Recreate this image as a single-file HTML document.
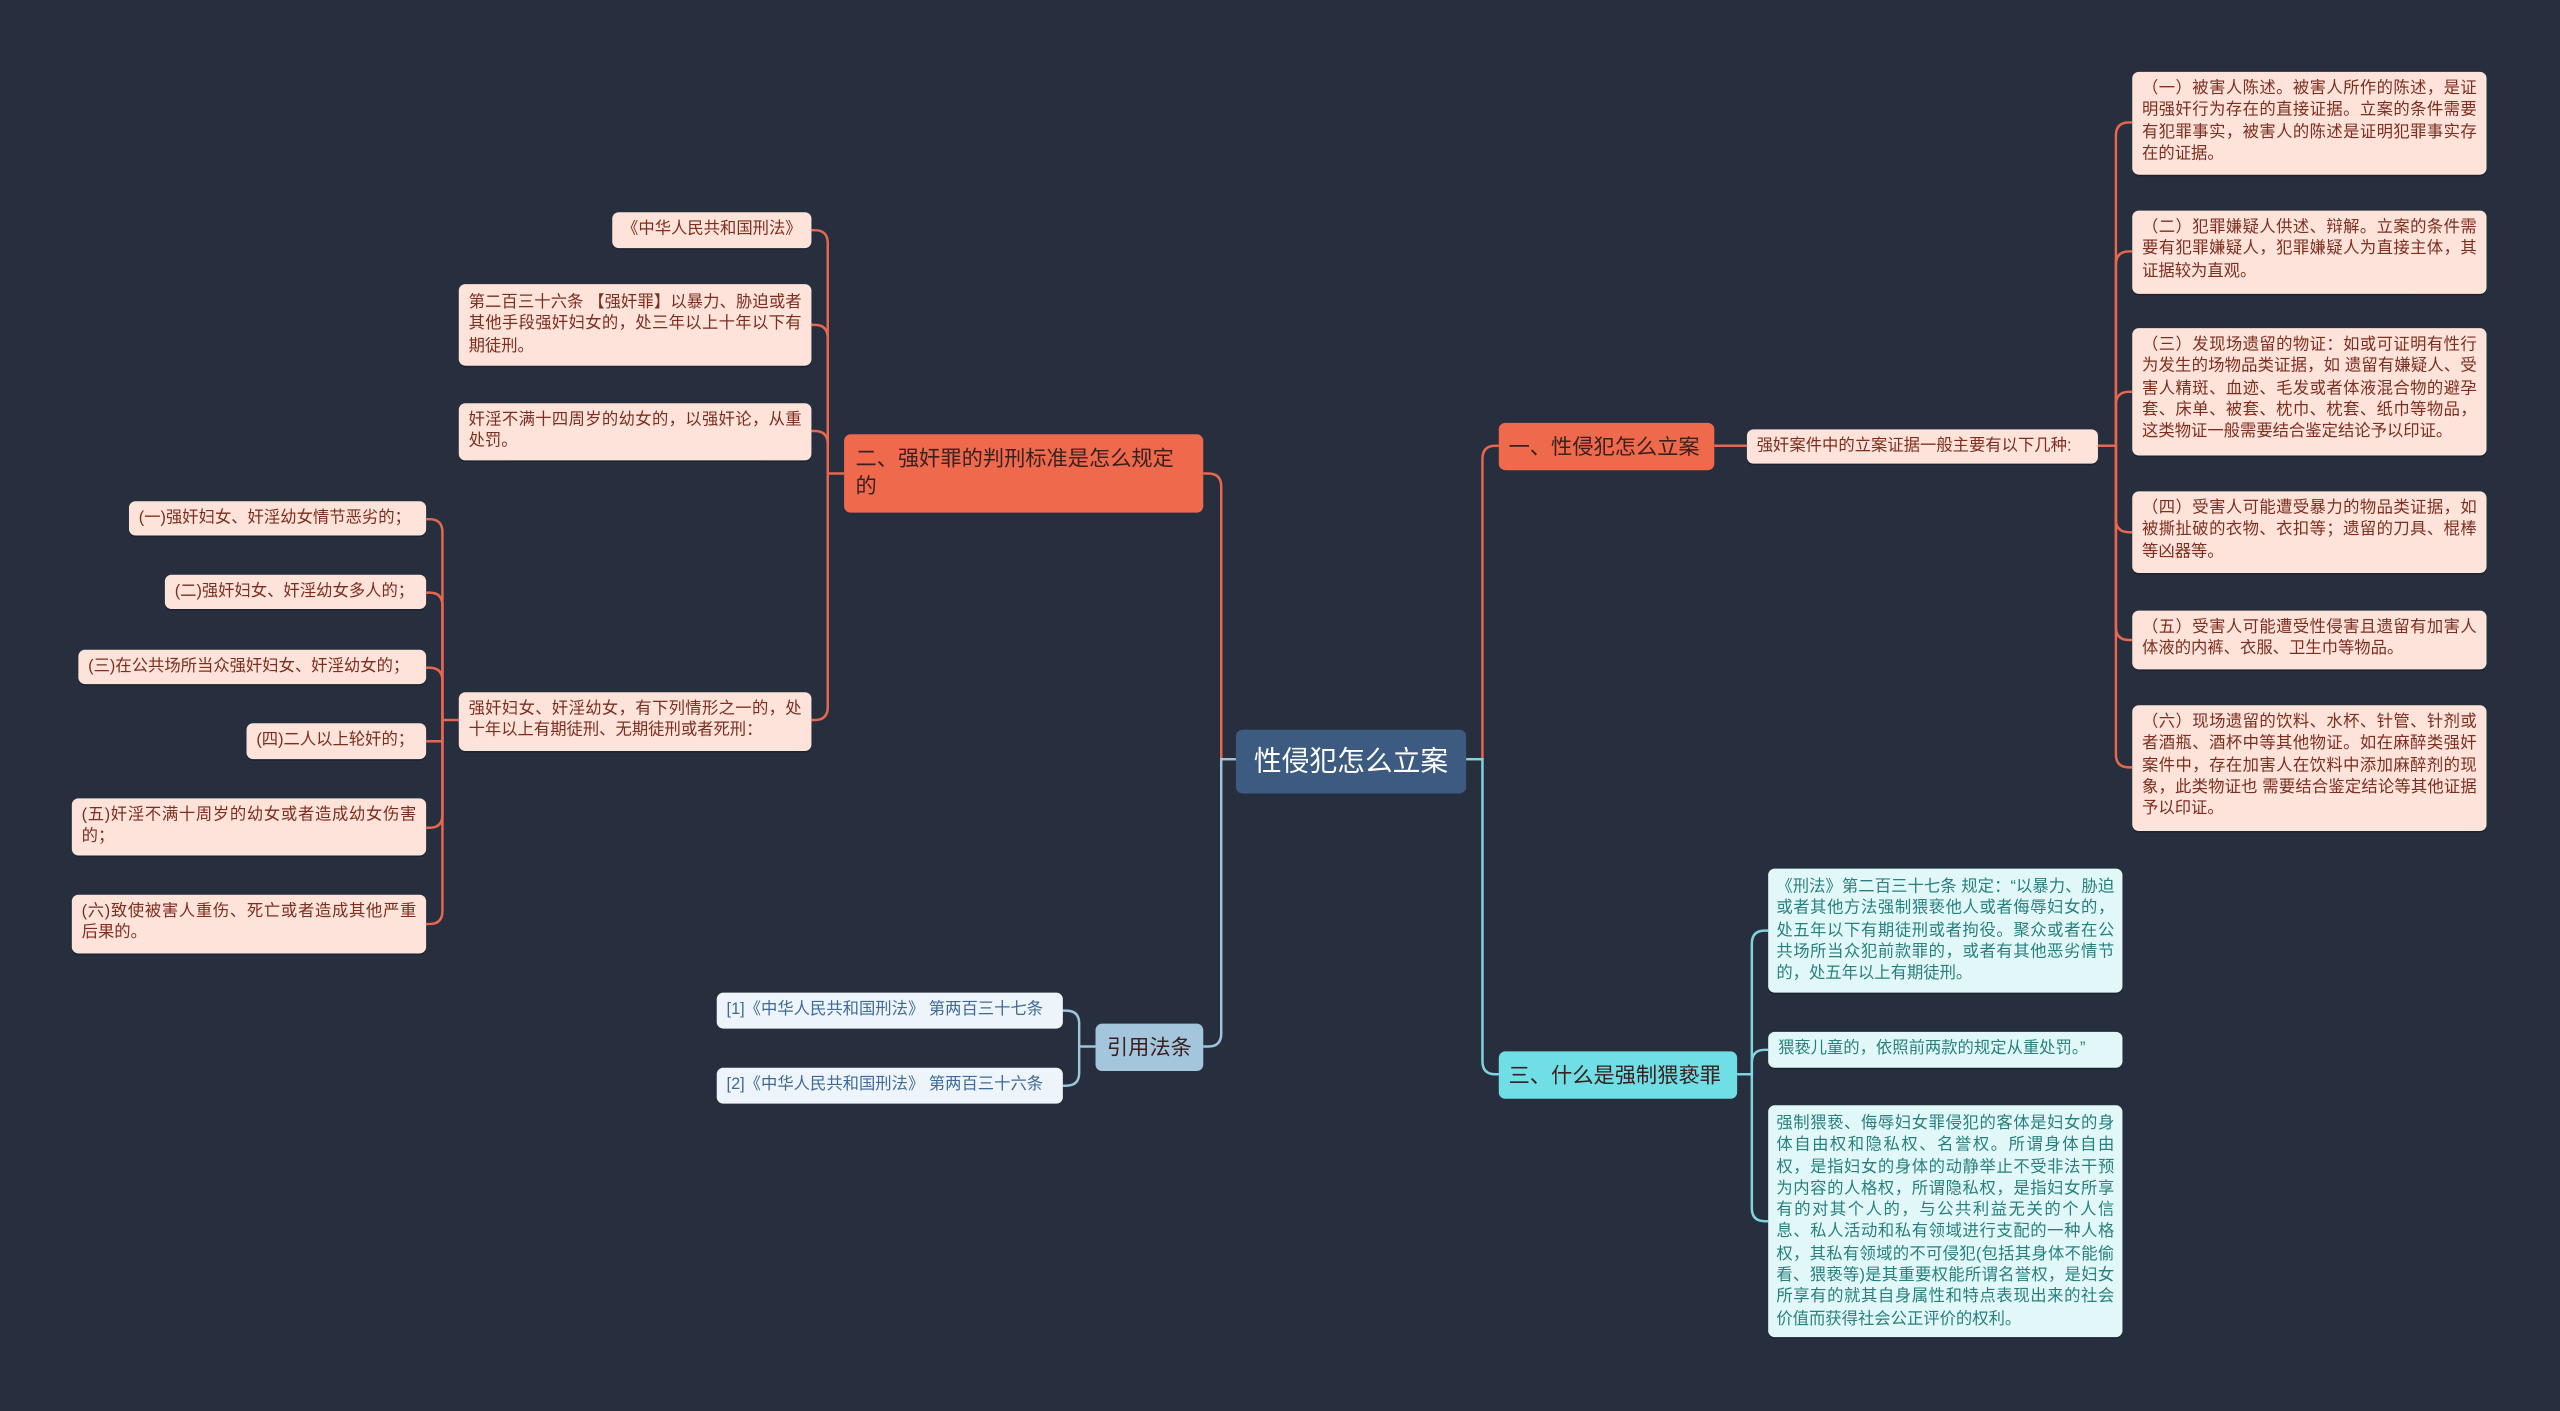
<!DOCTYPE html>
<html><head><meta charset="utf-8">
<style>
html,body{margin:0;padding:0;background:#272f3e;width:2560px;height:1411px;overflow:hidden}
#s{position:absolute;left:0;top:0;width:1568px;height:864px;transform:scale(1.632653);transform-origin:0 0;font-family:"Liberation Sans","Noto Sans CJK SC",sans-serif}
.n{position:absolute;box-sizing:border-box;border-radius:4px}
.lf{background:#fde3da;color:#7d2e1f;font-size:10px;line-height:13.3px;padding:4px 6px;text-align:justify;box-shadow:0 1px 0 rgba(0,0,0,.25)}
.cy{background:#e2f8f8;color:#27807f;font-size:10px;line-height:13.3px;padding:5px 5px;text-align:justify;box-shadow:0 1px 0 rgba(0,0,0,.25)}
.rf{background:#eef5fa;color:#3f6a97;font-size:10px;line-height:22px;padding:0 6px;white-space:nowrap}
.br{color:#3a2020;font-size:13px;line-height:17px;padding:6px 7px}
.one{white-space:nowrap;line-height:21px;padding:0 6px}
svg{position:absolute;left:0;top:0}
</style></head><body><div id="s">
<svg width="1568" height="864" fill="none" stroke-width="1.5">
<g stroke="#e8674f">
<path d="M757 465 H748 V298 Q748 290 740 290 H737"/>
<path d="M517 290 H507 V149 Q507 141 499 141 H497"/>
<path d="M507 290 V207 Q507 199 499 199 H497"/>
<path d="M507 290 V272 Q507 264 499 264 H497"/>
<path d="M507 290 V433 Q507 441 499 441 H497"/>
<path d="M281 441 H271 V326 Q271 318 263 318 H261"/>
<path d="M271 441 V371 Q271 363 263 363 H261"/>
<path d="M271 441 V417 Q271 409 263 409 H261"/>
<path d="M271 441 V454 H261"/>
<path d="M271 441 V499 Q271 507 263 507 H261"/>
<path d="M271 441 V558 Q271 566 263 566 H261"/>
<path d="M898 465 H908 V281 Q908 273 916 273 H918"/>
<path d="M1050 273 H1070"/>
<path d="M1285 273 H1296 V83 Q1296 75 1304 75 H1306"/>
<path d="M1296 273 V162 Q1296 154 1304 154 H1306"/>
<path d="M1296 273 V248 Q1296 240 1304 240 H1306"/>
<path d="M1296 273 V318 Q1296 326 1304 326 H1306"/>
<path d="M1296 273 V384 Q1296 392 1304 392 H1306"/>
<path d="M1296 273 V462 Q1296 470 1304 470 H1306"/>
</g>
<g stroke="#7fd6df">
<path d="M898 465 H908 V650 Q908 658 916 658 H918"/>
<path d="M1064 658 H1073 V578 Q1073 570 1081 570 H1083"/>
<path d="M1073 658 V651 Q1073 643 1081 643 H1083"/>
<path d="M1073 658 V740 Q1073 748 1081 748 H1083"/>
</g>
<g stroke="#9cc6dc">
<path d="M757 465 H748 V633 Q748 641 740 641 H737"/>
<path d="M671 641 H661 V627 Q661 619 653 619 H651"/>
<path d="M661 641 V657 Q661 665 653 665 H651"/>
</g>
</svg>

<div class="n" style="left:757px;top:447px;width:141px;height:39px;background:#3d5a80;color:#fff;font-size:17px;line-height:39px;text-align:center">性侵犯怎么立案</div>

<div class="n br one" style="left:918px;top:259px;width:132px;height:29px;line-height:29px;background:#ef6a4d">一、性侵犯怎么立案</div>
<div class="n lf one" style="left:1070px;top:263px;width:215px;height:21px;line-height:21px">强奸案件中的立案证据一般主要有以下几种:</div>
<div class="n lf" style="left:1306px;top:44px;width:217px;height:63px">（一）被害人陈述。被害人所作的陈述，是证明强奸行为存在的直接证据。立案的条件需要有犯罪事实，被害人的陈述是证明犯罪事实存在的证据。</div>
<div class="n lf" style="left:1306px;top:129px;width:217px;height:51px">（二）犯罪嫌疑人供述、辩解。立案的条件需要有犯罪嫌疑人，犯罪嫌疑人为直接主体，其证据较为直观。</div>
<div class="n lf" style="left:1306px;top:201px;width:217px;height:78px">（三）发现场遗留的物证：如或可证明有性行为发生的场物品类证据，如 遗留有嫌疑人、受害人精斑、血迹、毛发或者体液混合物的避孕套、床单、被套、枕巾、枕套、纸巾等物品，这类物证一般需要结合鉴定结论予以印证。</div>
<div class="n lf" style="left:1306px;top:301px;width:217px;height:50px">（四）受害人可能遭受暴力的物品类证据，如被撕扯破的衣物、衣扣等；遗留的刀具、棍棒等凶器等。</div>
<div class="n lf" style="left:1306px;top:374px;width:217px;height:36px">（五）受害人可能遭受性侵害且遗留有加害人体液的内裤、衣服、卫生巾等物品。</div>
<div class="n lf" style="left:1306px;top:432px;width:217px;height:77px">（六）现场遗留的饮料、水杯、针管、针剂或者酒瓶、酒杯中等其他物证。如在麻醉类强奸案件中，存在加害人在饮料中添加麻醉剂的现象，此类物证也 需要结合鉴定结论等其他证据予以印证。</div>

<div class="n br" style="left:517px;top:266px;width:220px;height:48px;background:#ef6a4d">二、强奸罪的判刑标准是怎么规定的</div>
<div class="n lf one" style="left:375px;top:130px;width:122px;height:22px;line-height:22px">《中华人民共和国刑法》</div>
<div class="n lf" style="left:281px;top:174px;width:216px;height:50px;padding-top:5px">第二百三十六条 【强奸罪】以暴力、胁迫或者其他手段强奸妇女的，处三年以上十年以下有期徒刑。</div>
<div class="n lf" style="left:281px;top:247px;width:216px;height:35px">奸淫不满十四周岁的幼女的，以强奸论，从重处罚。</div>
<div class="n lf" style="left:281px;top:424px;width:216px;height:36px">强奸妇女、奸淫幼女，有下列情形之一的，处十年以上有期徒刑、无期徒刑或者死刑：</div>
<div class="n lf one" style="left:79px;top:307px;width:182px;height:21px;line-height:21px">(一)强奸妇女、奸淫幼女情节恶劣的；</div>
<div class="n lf one" style="left:101px;top:352px;width:160px;height:21px;line-height:21px">(二)强奸妇女、奸淫幼女多人的；</div>
<div class="n lf one" style="left:48px;top:398px;width:213px;height:21px;line-height:21px">(三)在公共场所当众强奸妇女、奸淫幼女的；</div>
<div class="n lf one" style="left:151px;top:443px;width:110px;height:22px;line-height:22px">(四)二人以上轮奸的；</div>
<div class="n lf" style="left:44px;top:489px;width:217px;height:35px">(五)奸淫不满十周岁的幼女或者造成幼女伤害的；</div>
<div class="n lf" style="left:44px;top:548px;width:217px;height:36px">(六)致使被害人重伤、死亡或者造成其他严重后果的。</div>

<div class="n br one" style="left:918px;top:644px;width:146px;height:29px;line-height:29px;background:#6fdfe5">三、什么是强制猥亵罪</div>
<div class="n cy" style="left:1083px;top:532px;width:217px;height:76px">《刑法》第二百三十七条 规定：“以暴力、胁迫或者其他方法强制猥亵他人或者侮辱妇女的，处五年以下有期徒刑或者拘役。聚众或者在公共场所当众犯前款罪的，或者有其他恶劣情节的，处五年以上有期徒刑。</div>
<div class="n cy one" style="left:1083px;top:632px;width:217px;height:22px;line-height:22px">猥亵儿童的，依照前两款的规定从重处罚。”</div>
<div class="n cy" style="left:1083px;top:677px;width:217px;height:142px">强制猥亵、侮辱妇女罪侵犯的客体是妇女的身体自由权和隐私权、名誉权。所谓身体自由权，是指妇女的身体的动静举止不受非法干预为内容的人格权，所谓隐私权，是指妇女所享有的对其个人的，与公共利益无关的个人信息、私人活动和私有领域进行支配的一种人格权，其私有领域的不可侵犯(包括其身体不能偷看、猥亵等)是其重要权能所谓名誉权，是妇女所享有的就其自身属性和特点表现出来的社会价值而获得社会公正评价的权利。</div>

<div class="n br one" style="left:671px;top:627px;width:66px;height:29px;line-height:29px;background:#a3c6dd;text-align:center;padding:0">引用法条</div>
<div class="n rf" style="left:439px;top:608px;width:212px;height:22px">[1]《中华人民共和国刑法》 第两百三十七条</div>
<div class="n rf" style="left:439px;top:654px;width:212px;height:22px">[2]《中华人民共和国刑法》 第两百三十六条</div>
</div></body></html>
